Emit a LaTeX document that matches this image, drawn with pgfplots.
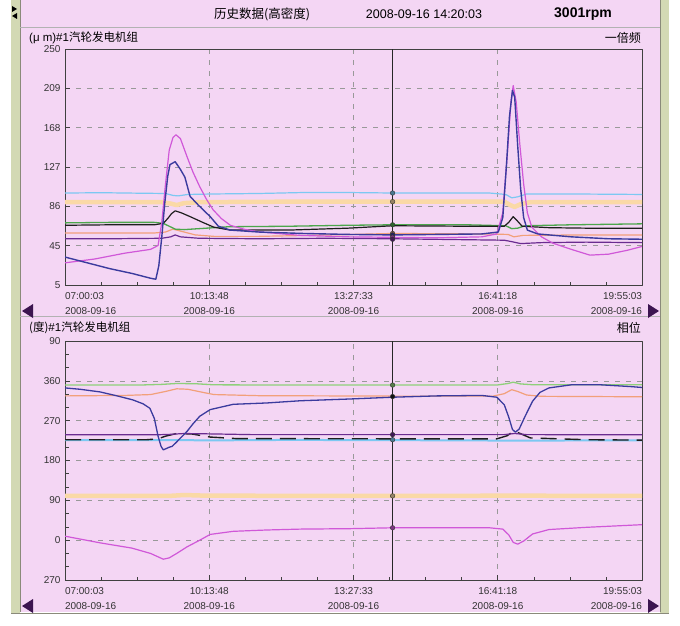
\documentclass[border=0pt]{standalone}
\usepackage{pgfplots}
\pgfplotsset{compat=1.18}
\usepackage{fontspec}
\setmainfont{Liberation Sans}
\newfontfamily\cjk{Noto Sans CJK SC}
\definecolor{bgpink}{HTML}{F4D6F4}
\definecolor{framegreen}{HTML}{D3D9B4}
\definecolor{framedark}{HTML}{8A8A7A}
\definecolor{arrowc}{HTML}{3C1450}
\definecolor{navyc}{HTML}{3B3B9E}
\definecolor{magc}{HTML}{D058D8}
\definecolor{purc}{HTML}{6A2C90}
\definecolor{cyanc}{HTML}{7CC8F2}
\definecolor{peachc}{HTML}{FAD9A6}
\definecolor{salmc}{HTML}{F2A07A}
\definecolor{greenc}{HTML}{4CA64C}
\definecolor{lgreenc}{HTML}{8ED07A}
\definecolor{blackc}{HTML}{1E1E1E}
\pgfplotsset{
  panel/.style={
    scale only axis, width=577pt, xmin=0, xmax=775,
    axis background/.style={fill=bgpink},
    axis line style={draw=black!75, line width=0.8pt},
    tick align=inside,
    xtick pos=bottom, ytick pos=left,
    major tick length=5pt, minor tick length=3.5pt,
    every tick/.style={black!75, line width=0.6pt},
    xtick={0,193.75,387.5,581.25,775},
    minor x tick num=3, minor y tick num=2,
    xmajorgrids, ymajorgrids,
    major grid style={dash pattern=on 5pt off 6pt, black!40, line width=0.6pt},
    /pgf/number format/assume math mode=true,
    tick label style={font=\fontsize{10}{15}\selectfont, text=black!80},
    xticklabel style={align=center, inner sep=0pt, yshift=-7pt},
    yticklabel style={xshift=-1pt},
    xticklabels={{\rlap{07:00:03}\\\rlap{2008-09-16}},{10:13:48\\2008-09-16},{13:27:33\\2008-09-16},{16:41:18\\2008-09-16},{\llap{19:55:03}\\\llap{2008-09-16}}},
    line join=round,
  },
  cur/.style={only marks, mark=*, mark size=2.3pt, mark options={draw=black!80, fill=#1!60!black}},
}
\begin{document}
\begin{tikzpicture}[x=1pt,y=1pt]
\useasboundingbox (0,0) rectangle (680,625);
\fill[white] (0,0) rectangle (680,625);
\fill[bgpink] (20,13) rectangle (660,625);
\fill[framegreen] (11,11) rectangle (20,625);
\fill[framegreen] (660,11) rectangle (669,625);
\draw[framedark, line width=0.8pt] (20,13) -- (20,625);
\draw[framedark, line width=0.8pt] (660,13) -- (660,625);
\draw[framedark, line width=0.8pt] (11,12) -- (669,12);
\draw[gray!60, line width=0.8pt] (20,598) -- (660,598);
\draw[gray!60, line width=0.8pt] (20,309) -- (660,309);
\fill[black] (12,619) -- (17,616) -- (12,613) -- cycle;
\fill[black] (17,612) -- (12,609) -- (17,606) -- cycle;
% header
\node at (262,611) {\cjk\fontsize{12.5}{14}\selectfont 历史数据(高密度)};
\node at (424,611) {\fontsize{12.5}{14}\selectfont 2008-09-16 14:20:03};
\node at (583,611) {\bfseries\fontsize{14}{16}\selectfont 3001rpm};
% panel titles
\node[anchor=west, inner sep=0pt] at (29,587) {\fontsize{11.5}{13}\selectfont (μ m)\#1{\cjk 汽轮发电机组}};
\node[anchor=east, inner sep=0pt] at (641,587) {\cjk\fontsize{12}{13}\selectfont 一倍频};
\node[anchor=west, inner sep=0pt] at (29,297) {\fontsize{11.5}{13}\selectfont {\cjk (度)}\#1{\cjk 汽轮发电机组}};
\node[anchor=east, inner sep=0pt] at (641,297) {\cjk\fontsize{12}{13}\selectfont 相位};
% arrows
\fill[arrowc] (22,314) -- (33,321) -- (33,307) -- cycle;
\fill[arrowc] (659,314) -- (648,321) -- (648,307) -- cycle;
\fill[arrowc] (22,19) -- (33,26) -- (33,12) -- cycle;
\fill[arrowc] (659,19) -- (648,26) -- (648,12) -- cycle;

\begin{axis}[panel, at={(65pt,340pt)}, height=236pt, ymin=5, ymax=250,
  ytick={5,45.833,86.667,127.5,168.333,209.167,250},
  yticklabels={5,45,86,127,168,209,250}]
\addplot[peachc, line width=4.5pt] coordinates {(0,91) (130,91) (142,89.5) (150,88) (160,90) (180,91) (300,91.5) (440,91.5) (590,91.5) (598,88) (604,86) (612,89) (625,91) (775,91)};
\addplot[cyanc, line width=1.2pt] coordinates {(0,100.5) (50,100.8) (100,100.3) (135,100) (145,98) (152,97.5) (165,99) (200,99.5) (260,100) (320,101) (380,101) (440,100.5) (500,100.5) (570,100.5) (592,99) (600,95.5) (608,96.5) (620,99.5) (680,99.5) (775,99)};
\addplot[salmc, line width=1.2pt] coordinates {(0,59) (120,59) (135,60) (145,63) (155,61) (175,57) (200,55.5) (260,55.5) (330,56.5) (440,58.5) (560,58) (595,57.5) (603,55) (615,56.5) (700,57) (775,57)};
\addplot[greenc, line width=1.3pt] coordinates {(0,69.5) (60,70) (120,70) (132,69) (140,66) (148,63) (160,62.5) (180,63.5) (220,65.5) (300,66) (380,67) (440,67.5) (540,67.5) (592,66.5) (600,63.5) (608,64) (618,66.5) (680,67.5) (775,68.5)};
\addplot[purc, line width=1.2pt] coordinates {(0,53) (60,53) (130,53.5) (142,55) (148,57) (155,55) (180,53.5) (260,53) (350,53.5) (440,53) (540,52) (590,51.5) (600,50) (612,48) (640,49) (700,49.5) (775,49)};
\addplot[blackc, line width=1.2pt] coordinates {(0,67) (60,67.5) (120,67.5) (132,69) (138,74) (143,79) (148,82) (156,80) (168,76) (185,70) (200,65) (222,62) (300,62) (380,64) (440,66.5) (540,66) (590,66) (596,70) (602,76) (607,72) (614,66) (650,64.5) (700,64) (775,64)};
\addplot[magc, line width=1.2pt] coordinates {(0,28) (40,32) (80,38) (115,42) (125,46) (130,70) (135,110) (140,145) (145,158) (149,161) (155,157) (164,138) (172,122) (181,107) (190,94) (199,83) (210,74) (222,67) (240,63) (262,60) (316,56.5) (380,55) (440,54.5) (500,54) (560,55) (580,58) (588,80) (594,140) (599,195) (602,212) (606,195) (611,150) (616,110) (621,80) (627,65) (640,55) (655,48.5) (680,42) (705,36) (730,37) (755,41) (775,45)};
\addplot[navyc, line width=1.4pt] coordinates {(0,34) (30,28) (60,22) (90,17) (115,12) (122,11) (126,25) (130,55) (134,90) (138,118) (141,130) (148,133) (155,125) (161,117) (168,97) (179,88) (195,76) (206,66) (222,62) (260,60) (320,58.5) (380,57.5) (440,57) (500,57.5) (560,58) (582,60) (588,75) (593,130) (597,180) (601,207) (604,200) (608,150) (612,105) (616,75) (621,62) (635,58) (680,55) (730,53) (775,52.5)};
\addplot[black!85, line width=1.1pt] coordinates {(440,5) (440,250)};
\addplot[cur=cyanc] coordinates {(440,100.5)};
\addplot[cur=peachc] coordinates {(440,91.5)};
\addplot[cur=greenc] coordinates {(440,67.5)};
\addplot[cur=salmc] coordinates {(440,58.5)};
\addplot[cur=navyc] coordinates {(440,57)};
\addplot[cur=magc] coordinates {(440,54.5)};
\addplot[cur=purc] coordinates {(440,52.5)};
\end{axis}

\begin{axis}[panel, at={(65pt,45pt)}, height=239pt, ymin=-90, ymax=450,
  ytick={-90,0,90,180,270,360,450},
  yticklabels={270,0,90,180,270,360,90}]
\addplot[peachc, line width=4.5pt] coordinates {(0,100) (140,100) (160,102) (190,100.5) (440,100) (600,100.5) (775,100)};
\addplot[cyanc, line width=2pt] coordinates {(0,226) (150,226) (200,225.5) (300,226.5) (440,226) (600,225) (775,225.5)};
\addplot[blackc, line width=1.4pt, dash pattern=on 16pt off 8pt] coordinates {(0,227) (110,227) (125,229) (135,235) (150,241) (170,240) (195,233) (230,229.5) (440,229) (580,229) (594,236) (602,246) (610,242) (625,231) (700,227) (775,226)};
\addplot[purc, line width=1.2pt] coordinates {(0,238) (120,238) (140,239) (160,241) (200,240) (250,238.5) (440,238.5) (590,238.5) (604,241) (620,238.5) (775,238)};
\addplot[lgreenc, line width=1.3pt] coordinates {(0,350.5) (100,350.5) (130,352) (150,354) (175,353.5) (200,351) (300,350.5) (440,350.5) (580,350.5) (595,354) (602,357) (612,353) (630,351) (775,351)};
\addplot[salmc, line width=1.2pt] coordinates {(0,326) (80,327) (115,329) (135,336) (150,342) (165,341) (185,334) (200,329) (260,326.5) (440,325.5) (575,325.5) (590,331) (600,340) (608,336) (620,328) (640,325) (775,324)};
\addplot[navyc, line width=1.3pt] coordinates {(0,344) (20,341) (47,335) (70,326) (91,317) (105,308) (114,298) (120,275) (125,235) (129,212) (132,204) (136,207) (140,210) (144,212) (150,222) (157,234) (164,246) (172,263) (181,280) (195,295) (226,307) (271,310) (316,315) (383,319) (440,323) (500,326) (560,327) (580,323) (590,306) (596,278) (601,250) (605,244) (610,251) (618,280) (628,314) (638,334) (650,344) (680,351) (720,351) (760,347) (775,345)};
\addplot[magc, line width=1.2pt] coordinates {(0,9) (47,-6) (90,-18) (115,-30) (132,-43) (140,-40) (150,-30) (164,-15) (181,0) (195,13) (226,20) (271,23) (316,25) (383,26) (440,28) (500,28) (570,28) (588,25) (596,12) (602,-5) (608,-9) (616,-2) (628,14) (650,24) (700,29) (750,33) (775,35)};
\addplot[black!85, line width=1.1pt] coordinates {(440,-90) (440,450)};
\addplot[cur=lgreenc] coordinates {(440,350.5)};
\addplot[cur=blackc] coordinates {(440,324.5)};
\addplot[cur=purc] coordinates {(440,238.5)};
\addplot[cur=cyanc] coordinates {(440,227)};
\addplot[cur=peachc] coordinates {(440,100)};
\addplot[cur=magc] coordinates {(440,28)};
\end{axis}
\end{tikzpicture}
\end{document}
